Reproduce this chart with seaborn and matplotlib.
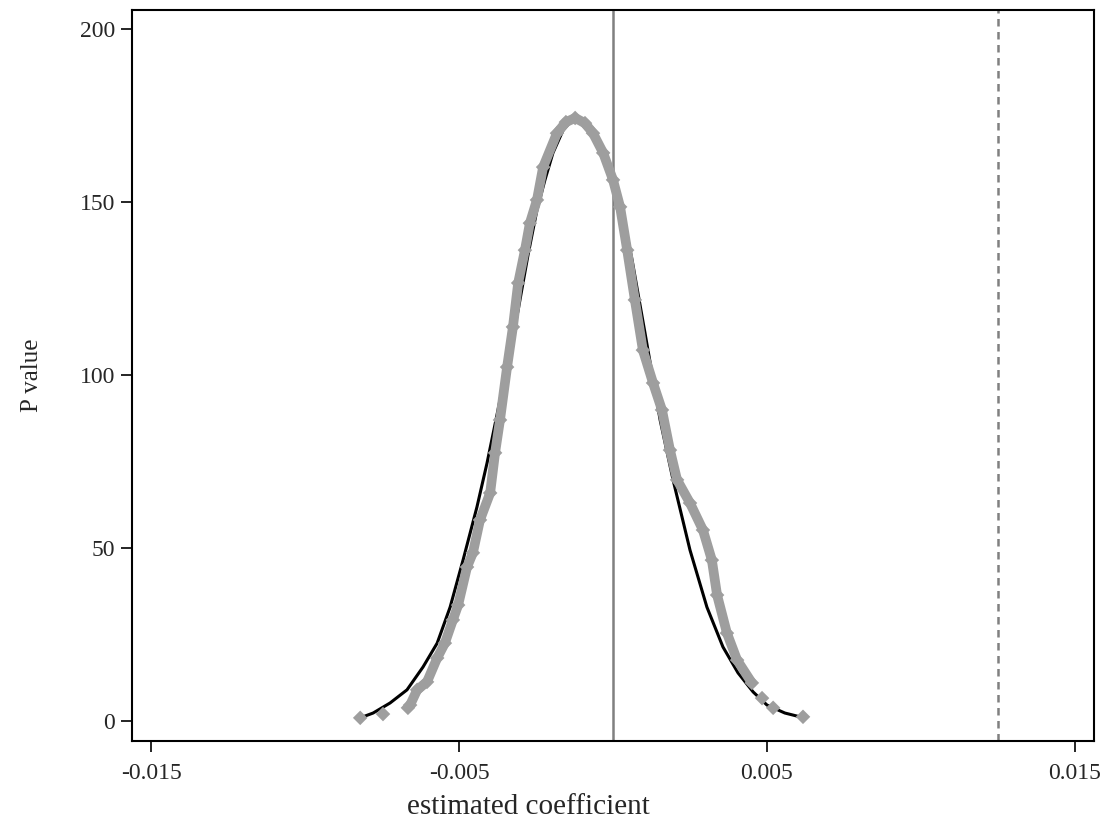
import matplotlib
matplotlib.use("Agg")
import matplotlib.pyplot as plt
import numpy as np
import pandas as pd
import seaborn as sns

# kernel density of placebo estimates (grey diamonds)
kde_x = [-0.00821, -0.00747, -0.00666, -0.00659, -0.00636, -0.00604, -0.00571, -0.00546,
         -0.00520, -0.00503, -0.00474, -0.00455, -0.00432, -0.00399, -0.00383, -0.00367,
         -0.00344, -0.00325, -0.00308, -0.00286, -0.00270, -0.00247, -0.00227, -0.00182,
         -0.00153, -0.00123, -0.00091, -0.00065, -0.00032, 0.00000, 0.00023, 0.00046,
         0.00071, 0.00097, 0.00130, 0.00159, 0.00185, 0.00208, 0.00250, 0.00292,
         0.00321, 0.00338, 0.00370, 0.00403, 0.00451, 0.00484, 0.00520, 0.00617]
kde_y = [0.9, 2.0, 3.8, 4.6, 9.0, 11.3, 18.2, 22.5,
         29.2, 33.5, 44.5, 48.6, 58.1, 65.9, 77.5, 87.0,
         102.3, 113.9, 126.6, 136.1, 143.9, 150.6, 160.1, 169.9,
         173.1, 174.3, 172.8, 169.9, 164.2, 156.4, 148.6, 136.1,
         121.7, 107.2, 97.7, 89.9, 78.3, 69.7, 63.0, 55.2,
         46.5, 36.4, 25.4, 17.6, 11.0, 6.6, 3.8, 1.2]

# normal density overlay (black line)
normal_x = [-0.00821, -0.00779, -0.00724, -0.00669, -0.00617, -0.00571, -0.00529, -0.00487,
            -0.00442, -0.00409, -0.00377, -0.00344, -0.00308, -0.00276, -0.00247, -0.00221,
            -0.00195, -0.00162, -0.00133, -0.00101, -0.00065, -0.00032, 0.00000, 0.00029,
            0.00062, 0.00104, 0.00153, 0.00195, 0.00250, 0.00305, 0.00357, 0.00406,
            0.00455, 0.00500, 0.00558, 0.00607]
normal_y = [0.9, 2.3, 5.2, 9.0, 15.6, 22.5, 32.9, 46.5,
            61.8, 74.6, 88.4, 102.9, 118.8, 134.7, 147.7, 156.4,
            164.2, 170.8, 173.7, 173.1, 170.2, 165.0, 157.8, 147.7,
            133.2, 112.1, 87.0, 69.7, 49.4, 32.9, 21.4, 13.9,
            8.4, 4.6, 2.3, 1.2]

zero_line = 0.0
true_coef = 0.0125

x_ticks = [-0.015, -0.005, 0.005, 0.015]
x_tick_labels = ["-0.015", "-0.005", "0.005", "0.015"]
y_ticks = [0, 50, 100, 150, 200]

sns.set_theme(style="ticks")
plt.rcParams["font.family"] = ["Liberation Serif", "DejaVu Serif"]

kde_df = pd.DataFrame({"coef": kde_x, "density": kde_y})
normal_df = pd.DataFrame({"coef": normal_x, "density": normal_y})

fig = plt.figure(figsize=(11.17, 8.22), dpi=100)
ax = fig.add_axes([0.1182, 0.0985, 0.8612, 0.8893])

grey = "#9e9e9e"
sns.lineplot(data=normal_df, x="coef", y="density", color="black", linewidth=2.2,
             estimator=None, sort=False, ax=ax, zorder=2)
# dense part of the grey chain drawn as a thick line, tails stay as loose diamonds
sns.lineplot(data=kde_df.iloc[3:-3], x="coef", y="density", color=grey, linewidth=7,
             estimator=None, sort=False, ax=ax, zorder=3)
sns.scatterplot(data=kde_df, x="coef", y="density", color=grey, marker="D", s=55,
                edgecolor="none", ax=ax, zorder=4)

ax.axvline(zero_line, color="#808080", linewidth=1.8, zorder=1)
ax.axvline(true_coef, color="#808080", linewidth=1.8, linestyle=(0, (3, 2.2)), zorder=1)

ax.set_xlim(-0.01562, 0.01562)
ax.set_ylim(-5.8, 205.5)
ax.set_xticks(x_ticks)
ax.set_xticklabels(x_tick_labels)
ax.set_yticks(y_ticks)

ax.set_xlabel("estimated coefficient", fontsize=21)
ax.set_ylabel("P value", fontsize=18)
ax.xaxis.set_label_coords(0.4117, -0.073)
ax.yaxis.set_label_coords(-0.0925, 0.5)
ax.tick_params(axis="both", labelsize=17, length=8, width=1.2, color="black", pad=4)
ax.tick_params(axis="x", pad=8)

for side in ["top", "right", "left", "bottom"]:
    ax.spines[side].set_visible(True)
    ax.spines[side].set_color("black")
    ax.spines[side].set_linewidth(1.5)

fig.savefig("out.png", dpi=100, facecolor="white")
